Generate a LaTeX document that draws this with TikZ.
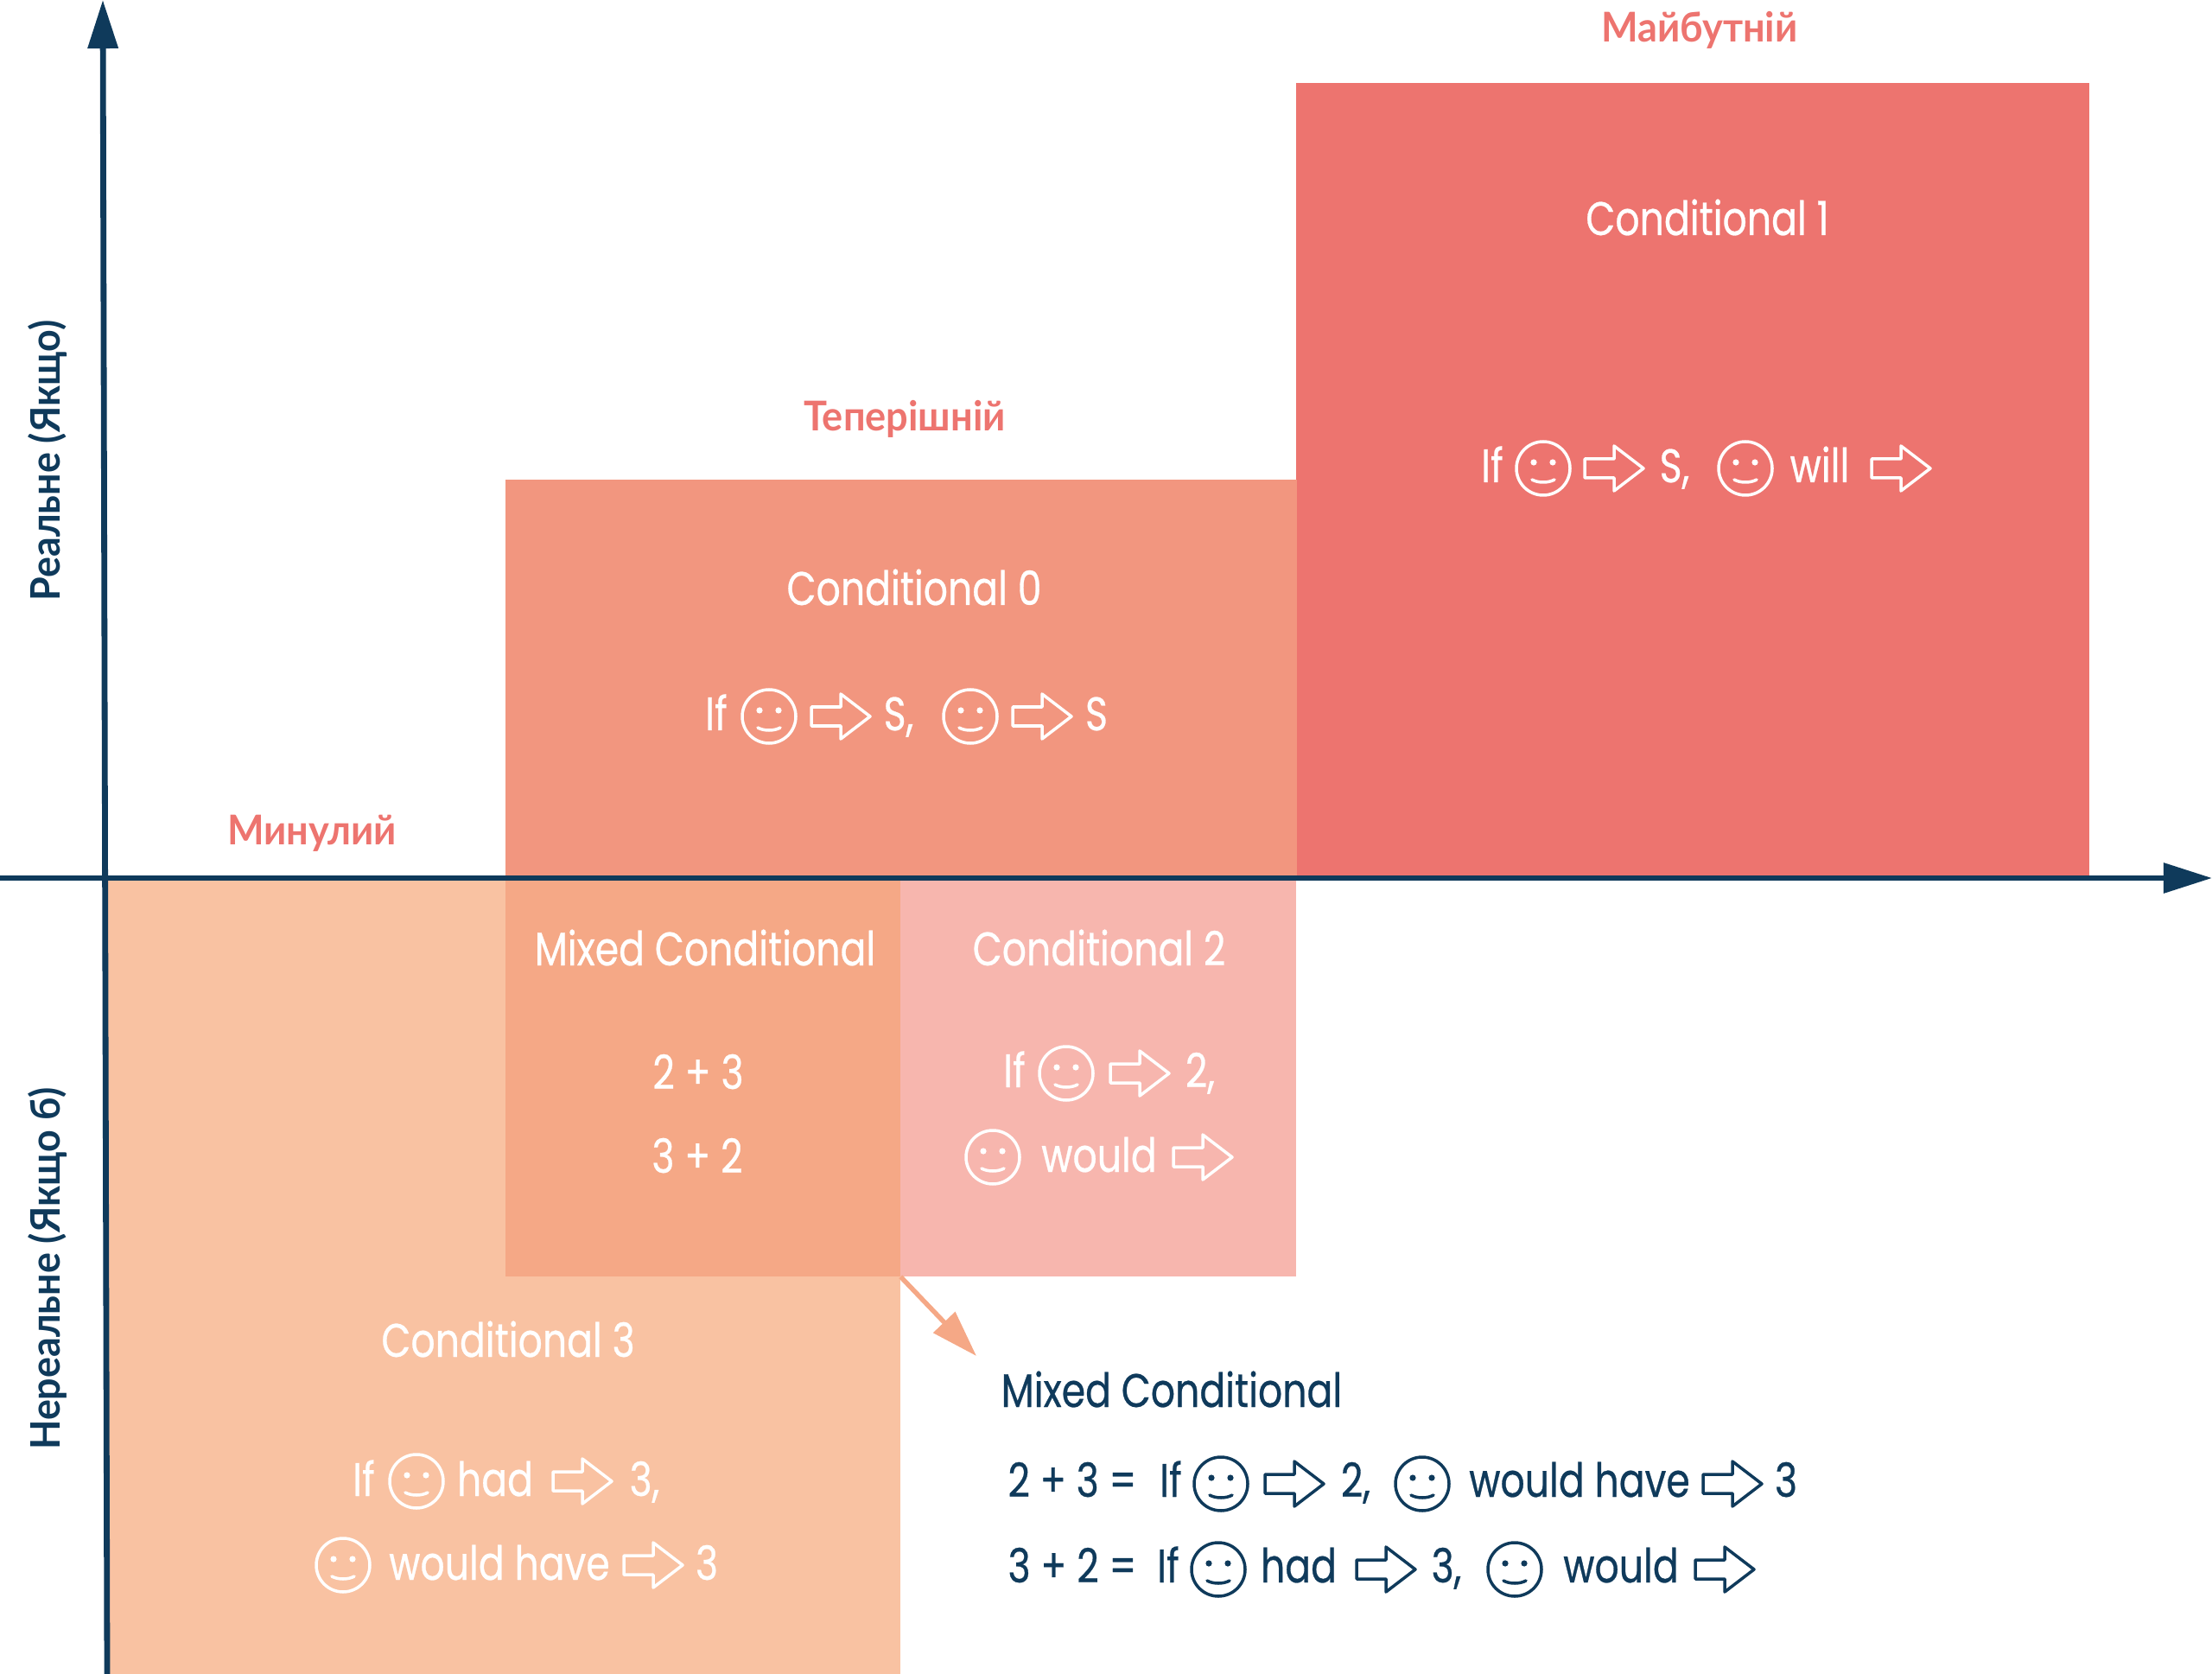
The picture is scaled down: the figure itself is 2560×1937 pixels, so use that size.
\documentclass[tikz,border=0pt]{standalone}
\usepackage{fontspec}
\setmainfont{Poppins}[FakeStretch=0.81, FakeBold=0.5]
\newfontfamily\labelfont{Lato}[FakeStretch=0.95]
\usetikzlibrary{arrows.meta, positioning}

\definecolor{navyline}{HTML}{0F3A5B}
\definecolor{futurered}{HTML}{ED746F}
\definecolor{presentred}{HTML}{F2967F}
\definecolor{mixedorange}{HTML}{F5A886}
\definecolor{secondpink}{HTML}{F7B6AE}
\definecolor{thirdpeach}{HTML}{F9C2A2}

\tikzset{
    smile/.pic={
        \draw[line width=0.035cm] (0,0) circle (31);
        \fill (-11,-7) circle (3.6);
        \fill (11,-7) circle (3.6);
        \draw[line width=0.035cm, line cap=round] (-13,13) .. controls (-6,17) and (6,17) .. (13,13);
    },
    hollow/.pic={
        \draw[line width=0.035cm, line join=round] (0,-11) -- (34,-11) -- (34,-26) -- (68,0) -- (34,26) -- (34,11) -- (0,11) -- cycle;
    }
}

\begin{document}
\begin{tikzpicture}[
        x=0.01cm, y=-0.01cm,
        block/.style={rectangle, inner sep=0pt, outer sep=0pt, anchor=north west},
        word/.style={white, anchor=base, inner sep=0pt, font=\fontsize{15.5}{18}\selectfont},
        dark/.style={word, navyline},
        tense/.style={anchor=center, inner sep=0pt, text=futurered, font=\labelfont\bfseries\fontsize{13.5}{17}\selectfont},
        side/.style={anchor=center, inner sep=0pt, rotate=90, text=navyline, font=\labelfont\bfseries\fontsize{13.4}{17}\selectfont},
        axis/.style={-{Triangle[length=0.56cm, width=0.34cm]}, line width=0.06cm, navyline}
    ]
    \useasboundingbox (0,0) rectangle (2560,1937);

    % Blocks
    \node[block, fill=futurered, minimum width=9.17cm, minimum height=9.2cm] (cond1) at (1500,96) {};
    \node[block, fill=presentred, minimum width=9.15cm, minimum height=4.61cm] (cond0) at (585,555) {};
    \node[block, fill=thirdpeach, minimum width=9.17cm, minimum height=9.21cm] (cond3) at (124,1016) {};
    \node[block, fill=mixedorange, minimum width=4.57cm, minimum height=4.61cm] (mixed) at (585,1016) {};
    \node[block, fill=secondpink, minimum width=4.58cm, minimum height=4.61cm] (cond2) at (1042,1016) {};

    % Axes
    \coordinate (xstart) at (0,1016);
    \coordinate (xend) at (2560,1016);
    \coordinate (ystart) at (124,1937);
    \coordinate (yend) at (119,0);
    \draw[axis] (xstart) -- (xend);
    \draw[axis, line width=0.068cm] (ystart) -- (yend);

    % Tenses and side labels
    \node[tense] (future) at (1967,35) {Майбутній};
    \node[tense] (present) at (1047,485) {Теперішній};
    \node[tense] (past) at (361,964) {Минулий};
    \node[side] (real) at (55,533) {Реальне (Якщо)};
    \node[side] (unreal) at (55,1468) {Нереальне (Якщо б)};

    % Conditional 1
    \node[word] (title1) at (1976,272) {Conditional 1};
    \node[word] (if1) at (1727,558) {If};
    \pic[white] at (1786,542) {smile};
    \pic[white] at (1834,542) {hollow};
    \node[word] (s1) at (1938,558) {S,};
    \pic[white] at (2020,542) {smile};
    \node[word] (will1) at (2106,558) {will};
    \pic[white] at (2166,542) {hollow};

    % Conditional 0
    \node[word] (title0) at (1058,700) {Conditional 0};
    \node[word] (if0) at (829,845) {If};
    \pic[white] at (890,829) {smile};
    \pic[white] at (939,829) {hollow};
    \node[word] (s0) at (1040,845) {S,};
    \pic[white] at (1123,829) {smile};
    \pic[white] at (1172,829) {hollow};
    \node[word] (send0) at (1269,845) {S};

    % Mixed Conditional
    \node[word] (titlemixed) at (816,1117) {Mixed Conditional};
    \node[word] (twothree) at (808,1260) {2 + 3};
    \node[word] (threetwo) at (807,1357) {3 + 2};

    % Conditional 2
    \node[word] (title2) at (1272,1117) {Conditional 2};
    \node[word] (if2) at (1174,1258) {If};
    \pic[white] at (1234,1242) {smile};
    \pic[white] at (1285,1242) {hollow};
    \node[word] (two2) at (1389,1258) {2,};
    \pic[white] at (1149,1339) {smile};
    \node[word] (would2) at (1272,1356) {would};
    \pic[white] at (1358,1339) {hollow};

    % Conditional 3
    \node[word] (title3) at (588,1570) {Conditional 3};
    \node[word] (if3) at (421,1731) {If};
    \pic[white] at (482,1714) {smile};
    \node[word] (had3) at (573,1731) {had};
    \pic[white] at (640,1714) {hollow};
    \node[word] (three3) at (746,1731) {3,};
    \pic[white] at (397,1811) {smile};
    \node[word] (would3) at (578,1828) {would have};
    \pic[white] at (722,1811) {hollow};
    \node[word] (end3) at (818,1828) {3};

    % Pointer to the explanation
    \coordinate (pointer) at (1130,1569);
    \draw[-{Triangle[length=0.54cm, width=0.34cm]}, line width=0.055cm, mixedorange] (mixed.south east) -- (pointer);

    % Explanation
    \node[dark, anchor=base west] (explain) at (1158,1628) {Mixed Conditional};

    \node[dark] (sumone) at (1241,1732) {2 + 3 =};
    \node[dark] (ifa) at (1355,1732) {If};
    \pic[navyline] at (1413,1717) {smile};
    \pic[navyline] at (1464,1717) {hollow};
    \node[dark] (twoa) at (1569,1732) {2,};
    \pic[navyline] at (1646,1717) {smile};
    \node[dark] (woulda) at (1828,1732) {would have};
    \pic[navyline] at (1971,1717) {hollow};
    \node[dark] (threea) at (2067,1732) {3};

    \node[dark] (sumtwo) at (1241,1831) {3 + 2 =};
    \node[dark] (ifb) at (1352,1831) {If};
    \pic[navyline] at (1410,1816) {smile};
    \node[dark] (hadb) at (1503,1831) {had};
    \pic[navyline] at (1570,1816) {hollow};
    \node[dark] (threeb) at (1674,1831) {3,};
    \pic[navyline] at (1753,1816) {smile};
    \node[dark] (wouldb) at (1876,1831) {would};
    \pic[navyline] at (1962,1816) {hollow};

\end{tikzpicture}
\end{document}
